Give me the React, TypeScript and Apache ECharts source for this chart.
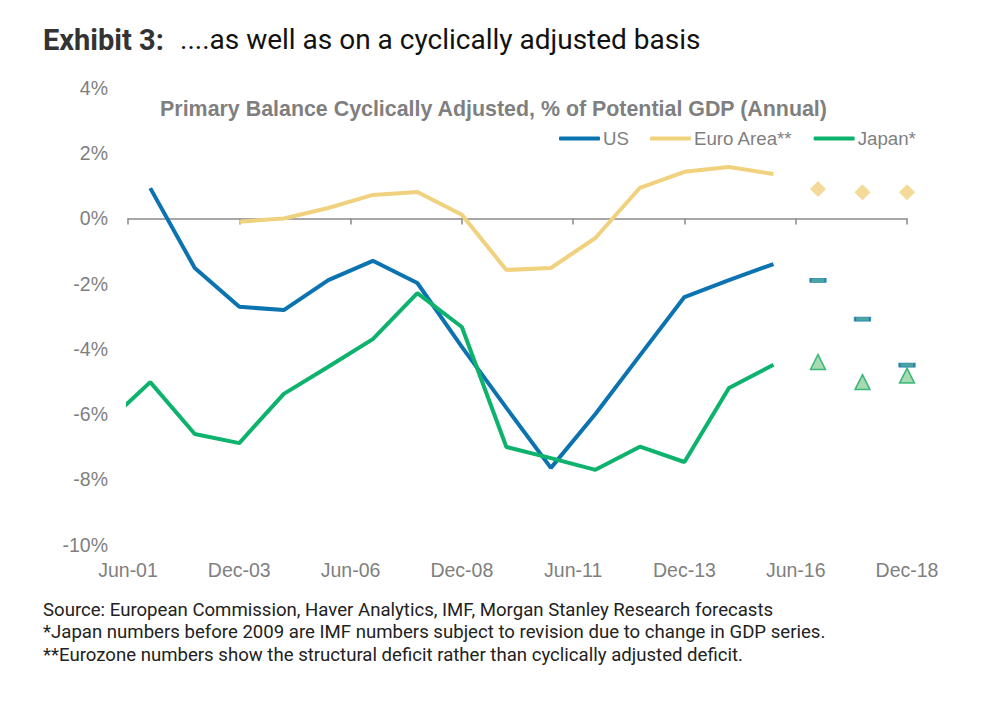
import React, { useEffect, useRef } from "react";
import * as echarts from "echarts";

// ---- Data ----
const usPeriods = ["Dec-01","Dec-02","Dec-03","Dec-04","Dec-05","Dec-06","Dec-07","Dec-08","Dec-09","Dec-10","Dec-11","Dec-12","Dec-13","Dec-14","Dec-15"];
const usValues = [0.93, -1.52, -2.71, -2.81, -1.89, -1.3, -1.98, -3.94, -5.81, -7.65, -6.0, -4.2, -2.41, -1.89, -1.4];

const euroPeriods = ["Dec-03","Dec-04","Dec-05","Dec-06","Dec-07","Dec-08","Dec-09","Dec-10","Dec-11","Dec-12","Dec-13","Dec-14","Dec-15"];
const euroValues = [-0.1, 0.0, 0.32, 0.72, 0.81, 0.11, -1.58, -1.52, -0.6, 0.94, 1.43, 1.58, 1.36];

const japanPeriods = ["Dec-00","Dec-01","Dec-02","Dec-03","Dec-04","Dec-05","Dec-06","Dec-07","Dec-08","Dec-09","Dec-10","Dec-11","Dec-12","Dec-13","Dec-14","Dec-15"];
const japanValues = [-6.3, -5.02, -6.61, -6.89, -5.38, -4.55, -3.7, -2.29, -3.33, -7.01, -7.35, -7.71, -7.0, -7.47, -5.2, -4.49];

const forecastPeriods = ["Dec-16","Dec-17","Dec-18"];
const usForecast = [-1.9, -3.09, -4.5];
const euroForecast = [0.9, 0.8, 0.8];
const japanForecast = [-4.4, -5.02, -4.82];

const xTickLabels = ["Jun-01","Dec-03","Jun-06","Dec-08","Jun-11","Dec-13","Jun-16","Dec-18"];
const yTicks = [-10, -8, -6, -4, -2, 0, 2, 4];

const headlineBold = "Exhibit 3:";
const headlineRest = "....as well as on a cyclically adjusted basis";
const chartTitle = "Primary Balance Cyclically Adjusted, % of Potential GDP (Annual)";
const footnotes = [
  "Source: European Commission, Haver Analytics, IMF, Morgan Stanley Research forecasts",
  "*Japan numbers before 2009 are IMF numbers subject to revision due to change in GDP series.",
  "**Eurozone numbers show the structural deficit rather than cyclically adjusted deficit.",
];

// half-years since Jun-01
const toX = (p: string) => {
  const [m, y] = p.split("-");
  return 2 * (Number(y) - 1) + (m === "Dec" ? 1 : 0);
};
const pairs = (ps: string[], vs: number[]) => ps.map((p, i) => [toX(p), vs[i]]);

const BLUE = "#0b74b0";
const GOLD = "#f0d17e";
const GREEN = "#0db36c";
const GRAY = "#7f7f7f";

export default function App() {
  const ref = useRef<HTMLDivElement>(null);
  useEffect(() => {
    if (!ref.current) return;
    const chart = echarts.init(ref.current, undefined, { renderer: "svg" });
    const axisFont = "Liberation Sans, Arial, sans-serif";
    chart.setOption({
      animation: false,
      backgroundColor: "#ffffff",
      grid: { left: 128, right: 87, top: 88, bottom: 163.5 },
      title: {
        text: chartTitle,
        left: 488.5,
        textAlign: "center",
        top: 93,
        textStyle: { fontFamily: axisFont, fontSize: 21.4, fontWeight: "bold", color: GRAY },
      },
      legend: {
        data: ["US", "Euro Area**", "Japan*"],
        left: 554,
        top: 124,
        icon: "roundRect",
        itemWidth: 41,
        itemHeight: 4,
        itemGap: 21,
        textStyle: { fontFamily: axisFont, fontSize: 18.7, color: GRAY, padding: [0, 0, 0, -2] },
      },
      xAxis: [
        {
          type: "value",
          min: 0,
          max: 35,
          interval: 5,
          position: "bottom",
          axisLine: { show: false, onZero: false },
          axisTick: { show: false },
          splitLine: { show: false },
          axisLabel: {
            margin: 15,
            fontFamily: axisFont,
            fontSize: 19.5,
            color: GRAY,
            formatter: (v: number) => xTickLabels[Math.round(v / 5)] ?? "",
          },
        },
        {
          type: "value",
          min: 0,
          max: 35,
          interval: 5,
          position: "bottom",
          axisLine: { show: true, onZero: true, lineStyle: { color: "#8a8a8a", width: 1.5 } },
          axisTick: { show: true, length: 6, lineStyle: { color: "#8a8a8a", width: 1.5 } },
          splitLine: { show: false },
          axisLabel: { show: false },
        },
      ],
      yAxis: {
        type: "value",
        min: yTicks[0],
        max: yTicks[yTicks.length - 1],
        interval: 2,
        axisLine: { show: false },
        axisTick: { show: false },
        splitLine: { show: false },
        axisLabel: {
          margin: 20,
          fontFamily: axisFont,
          fontSize: 19.5,
          color: GRAY,
          formatter: (v: number) => `${v}%`,
        },
      },
      series: [
        {
          name: "US",
          type: "line",
          data: pairs(usPeriods, usValues),
          showSymbol: false,
          symbol: "none",
          clip: true,
          lineStyle: { color: BLUE, width: 4 },
          itemStyle: { color: BLUE },
        },
        {
          name: "Euro Area**",
          type: "line",
          data: pairs(euroPeriods, euroValues),
          showSymbol: false,
          symbol: "none",
          clip: true,
          lineStyle: { color: GOLD, width: 4 },
          itemStyle: { color: GOLD },
        },
        {
          name: "Japan*",
          type: "line",
          data: pairs(japanPeriods, japanValues),
          showSymbol: false,
          symbol: "none",
          clip: true,
          lineStyle: { color: GREEN, width: 4 },
          itemStyle: { color: GREEN },
        },
        {
          name: "US forecast",
          type: "scatter",
          data: pairs(forecastPeriods, usForecast),
          symbol: "rect",
          symbolSize: [15, 4],
          itemStyle: { color: "#1f8f86", borderColor: BLUE, borderWidth: 1.2 },
          z: 3,
        },
        {
          name: "Euro forecast",
          type: "scatter",
          data: pairs(forecastPeriods, euroForecast),
          symbol: "diamond",
          symbolSize: 16,
          itemStyle: { color: GOLD },
        },
        {
          name: "Japan forecast",
          type: "scatter",
          data: pairs(forecastPeriods, japanForecast),
          symbol: "triangle",
          symbolSize: 15,
          itemStyle: { color: "#90d19d", borderColor: "#15aa62", borderWidth: 1.5 },
        },
      ],
      graphic: [
        {
          type: "text",
          left: 43,
          top: 25,
          style: {
            text: headlineBold,
            font: "bold 29px Roboto, sans-serif",
            fill: "#333333",
          },
        },
        {
          type: "text",
          left: 180,
          top: 25.5,
          style: {
            text: headlineRest,
            font: "28px Roboto, sans-serif",
            fill: "#111111",
          },
        },
        ...footnotes.map((t, i) => ({
          type: "text",
          left: 43,
          top: 600 + i * 22.5,
          style: {
            text: t,
            font: "18.6px Roboto, sans-serif",
            fill: "#222222",
          },
        })),
      ],
    });
    return () => chart.dispose();
  }, []);
  return (
    <div
      ref={ref}
      style={{ position: "fixed", left: 0, top: 0, width: 994, height: 708, background: "#fff" }}
    />
  );
}
